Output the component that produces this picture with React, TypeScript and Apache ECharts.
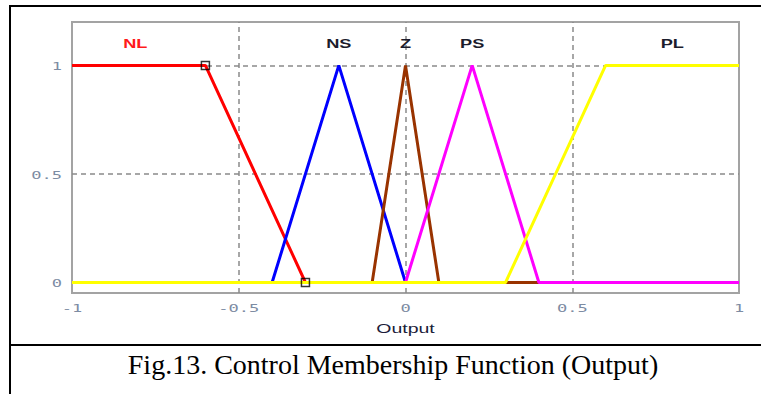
import React, { useEffect, useRef } from "react";
import * as echarts from "echarts";

// Output membership functions: breakpoints [x, membership]
const NL: number[][] = [[-1, 1], [-0.6, 1], [-0.3, 0], [1, 0]];
const NS: number[][] = [[-1, 0], [-0.4, 0], [-0.2, 1], [0, 0], [1, 0]];
const Z: number[][] = [[-1, 0], [-0.1, 0], [0, 1], [0.1, 0], [1, 0]];
const PS: number[][] = [[-1, 0], [0, 0], [0.2, 1], [0.4, 0], [1, 0]];
const PL: number[][] = [[-1, 0], [0.3, 0], [0.6, 1], [1, 1]];

const setNames = ["NL", "NS", "Z", "PS", "PL"];
const setLabelX = [-0.81, -0.2, 0, 0.2, 0.8];
const setLabelY = 1.1;
const setColors = ["#ff0000", "#0000ff", "#993300", "#ff00ff", "#ffff00"];
const setLabelColors = ["#ff1a1a", "#1c1c2c", "#1c1c2c", "#1c1c2c", "#1c1c2c"];

// selected NL vertices
const handles: number[][] = [[-0.6, 1], [-0.3, 0]];

const xTicks = [-1, -0.5, 0, 0.5, 1];
const yTicks = [0, 0.5, 1];
const xGrid = [-0.5, 0, 0.5];
const yGrid = [0.5, 1];
const axisTitle = "Output";

const caption = "Fig.13. Control Membership Function (Output)";

export default function App() {
  const ref = useRef<HTMLDivElement>(null);

  useEffect(() => {
    if (!ref.current) return;
    const chart = echarts.init(ref.current, null, { renderer: "svg" });
    const mfs = [NL, NS, Z, PS, PL];
    const gridLine = { color: "#8a8a8a", type: [5, 4] as number[], width: 1.5 };

    const lineSeries = mfs.map((d, i) => ({
      type: "line",
      name: setNames[i],
      data: d,
      showSymbol: false,
      symbol: "none",
      lineStyle: { color: setColors[i], width: 3 },
      z: 10 + i,
      silent: true,
    }));

    // y range chosen so the zero line sits on a half pixel
    const yMax = 1.2;
    const yMin = -(10.5 / (260.5 / yMax));

    const frame = [
      {
        type: "line",
        shape: { x1: 10, y1: 6, x2: 761, y2: 6 },
        style: { stroke: "#000", lineWidth: 2 },
      },
      {
        type: "line",
        shape: { x1: 10, y1: 5, x2: 10, y2: 394 },
        style: { stroke: "#000", lineWidth: 2 },
      },
      {
        type: "line",
        shape: { x1: 10, y1: 345, x2: 761, y2: 345 },
        style: { stroke: "#000", lineWidth: 2 },
      },
      {
        type: "text",
        x: 393,
        y: 364,
        style: {
          text: caption,
          fill: "#000",
          fontFamily: "Liberation Serif",
          fontSize: 28,
          align: "center",
          verticalAlign: "middle",
        },
      },
    ];

    chart.setOption({
      animation: false,
      grid: {
        left: 72,
        top: 22,
        right: 22,
        bottom: 101,
        show: true,
        borderColor: "#a3a3a3",
        borderWidth: 2,
        backgroundColor: "transparent",
      },
      xAxis: {
        type: "value",
        min: -1,
        max: 1,
        axisLine: { show: false },
        axisTick: { show: false },
        splitLine: { show: false },
        axisLabel: { show: false },
      },
      yAxis: {
        type: "value",
        min: yMin,
        max: yMax,
        axisLine: { show: false },
        axisTick: { show: false },
        splitLine: { show: false },
        axisLabel: { show: false },
      },
      series: [
        {
          type: "line",
          data: [],
          silent: true,
          z: 1,
          markLine: {
            silent: true,
            z: 1,
            symbol: "none",
            label: { show: false },
            lineStyle: gridLine,
            data: [
              ...xGrid.map((v) => ({ xAxis: v })),
              ...yGrid.map((v) => ({ yAxis: v })),
            ],
          },
        },
        ...lineSeries,
        {
          type: "scatter",
          data: handles,
          symbol: "rect",
          symbolSize: 8,
          itemStyle: { color: "rgba(255,255,255,0)", borderColor: "#000", borderWidth: 1.5 },
          z: 20,
          silent: true,
        },
      ],
      graphic: frame,
    });

    // Text in the plot is drawn wide, positioned through the axes' scales
    const px = (x: number, y: number) =>
      chart.convertToPixel({ gridIndex: 0 }, [x, y]) as number[];
    const bottomPx = px(0, yMin)[1];
    const leftPx = px(-1, 0)[0];

    const tickStyle = {
      fill: "#7d8ca3",
      fontFamily: "DejaVu Sans Mono",
      fontSize: 11,
    };

    const texts: any[] = [];
    xTicks.forEach((v) => {
      texts.push({
        type: "text",
        x: px(v, 0)[0],
        y: bottomPx + 15,
        scaleX: 1.55,
        style: { ...tickStyle, text: String(v), align: "center", verticalAlign: "middle" },
      });
    });
    yTicks.forEach((v) => {
      texts.push({
        type: "text",
        x: leftPx - 10,
        y: px(0, v)[1] + 1,
        scaleX: 1.55,
        style: { ...tickStyle, text: String(v), align: "right", verticalAlign: "middle" },
      });
    });
    texts.push({
      type: "text",
      x: px(0, 0)[0],
      y: bottomPx + 36,
      scaleX: 1.5,
      style: {
        text: axisTitle,
        fill: "#1c1c3a",
        fontFamily: "Liberation Sans",
        fontSize: 13,
        align: "center",
        verticalAlign: "middle",
      },
    });
    setNames.forEach((n, i) => {
      const p = px(setLabelX[i], setLabelY);
      texts.push({
        type: "text",
        x: p[0],
        y: p[1],
        scaleX: 1.4,
        z: 30,
        style: {
          text: n,
          fill: setLabelColors[i],
          fontFamily: "Liberation Sans",
          fontWeight: "bold",
          fontSize: 13,
          align: "center",
          verticalAlign: "middle",
        },
      });
    });

    chart.setOption({ graphic: [...frame, ...texts] });

    return () => chart.dispose();
  }, []);

  return (
    <div
      ref={ref}
      style={{ position: "absolute", left: 0, top: 0, width: 761, height: 394, background: "#fff" }}
    />
  );
}
